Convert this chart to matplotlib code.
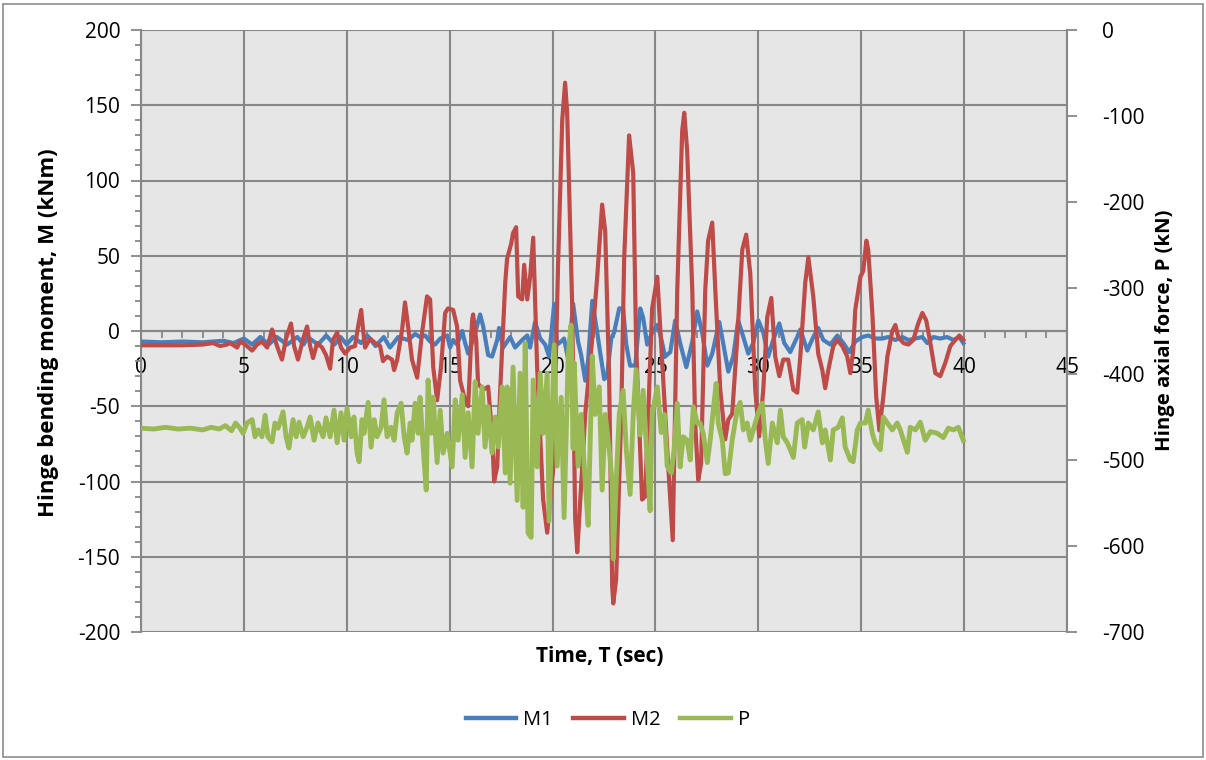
import matplotlib
matplotlib.use("Agg")
import matplotlib.pyplot as plt
from matplotlib.ticker import MultipleLocator, FixedLocator
from matplotlib.lines import Line2D
from matplotlib.patches import Rectangle

plt.rcParams['font.family'] = ['Open Sans', 'DejaVu Sans']

# ---------------- data ----------------
t_m1 = [0, 1, 2, 3, 4, 4.5,
        5.0, 5.4, 5.8, 6.2, 6.6, 7.1, 7.6, 7.9, 8.1, 8.6, 9.0, 9.4, 9.7, 10.0, 10.3, 10.7, 11.0, 11.4, 11.8, 12.1, 12.5,
        12.98, 13.32, 13.56, 13.81, 14.05, 14.29, 14.54, 14.88, 15.02, 15.17, 15.36, 15.61, 15.75, 15.90, 16.14, 16.48,
        16.63, 16.87, 17.06, 17.31, 17.40, 17.60, 17.94, 18.18, 18.52, 18.77, 18.91, 19.15, 19.40,
        19.64, 19.83, 20.08, 20.22, 20.42, 20.56, 20.76, 21.00, 21.24, 21.39, 21.59, 21.73, 21.93, 22.17, 22.31,
        22.51, 22.65, 22.85, 22.99, 23.24, 23.43, 23.58, 23.77, 24.02, 24.26, 24.40, 24.60, 24.84, 25.09,
        25.23, 25.47, 25.72, 25.96, 26.20, 26.50, 26.79, 27.03, 27.27, 27.52, 27.76, 28.10, 28.29, 28.54, 28.78,
        29.02, 29.27, 29.51, 29.75, 30.00, 30.24, 30.48, 30.72, 31.02, 31.26, 31.55, 31.89, 32.04, 32.38,
        32.67, 32.91, 33.16, 33.50, 33.84, 34.13, 34.42, 34.71, 35.05, 35.34, 35.68, 36.02, 36.32, 36.66, 37.00,
        37.29, 37.63, 37.97, 38.21, 38.50, 38.84, 39.18, 39.48, 39.77, 39.96]
m1 = [-7, -7.5, -7, -7.5, -6.5, -8,
      -5, -9, -4, -9, -4, -9, -4, -9, -4, -9, -3, -9, -4, -9, -4, -8, -3, -10, -4, -11, -4,
      -6, -2, -4, -3, -7, -9, -5, -3, -11, -6, -9, 0, -8, -15, -6, 11,
      3, -16, -17, -6, 2, -11, -4, -11, -6, -3, -11, 6, -5,
      -9, -17, 18, -9, -7, -5, -19, 18, -7, -16, -33, -19, 20, -1, -14,
      -32, -30, -5, -1, 15, 15, -9, -23, -23, 15, 9, -9, -1, 4,
      -2, -17, -14, 7, -8, -24, -7, 13, -1, -23, -15, 6, -8, -27, -17,
      7, -4, -15, -8, 7, -1, -17, -6, 5, -8, -14, -4, 1, -13,
      -4, 2, -6, -9, -3, -8, -14, -7, -4, -3, -5, -5, -4, -6, -4,
      -6, -5, -4, -8, -4, -5, -4, -6, -4, -8]

t_m2 = [0, 1, 2, 3.0, 3.5, 3.84, 4.18, 4.33, 4.67, 4.81,
        5.06, 5.40, 5.64, 5.88, 6.13, 6.37, 6.61, 6.85, 7.05, 7.29,
        7.44, 7.63, 7.88, 8.07, 8.22, 8.36, 8.56, 8.80, 8.99, 9.19,
        9.33, 9.53, 9.72, 9.92, 10.16, 10.40, 10.55, 10.70, 10.79, 10.89,
        11.13, 11.38, 11.62, 11.76, 11.96, 12.20, 12.30, 12.45, 12.69, 12.83,
        12.98, 13.17, 13.42, 13.66, 13.90, 14.05, 14.20, 14.39, 14.58, 14.78,
        14.92, 15.17, 15.36, 15.51, 15.75, 15.90, 16.09, 16.14, 16.29, 16.38,
        16.63, 16.87, 17.06, 17.16, 17.31, 17.45, 17.70, 17.79, 17.99, 18.08,
        18.23, 18.33, 18.52, 18.62, 18.77, 18.91, 19.06, 19.25, 19.54, 19.74,
        20.03, 20.27, 20.47, 20.61, 20.71, 20.95, 21.10, 21.20, 21.59, 21.93,
        22.17, 22.41, 22.56, 22.75, 22.90, 22.95, 23.09, 23.34, 23.48, 23.72,
        23.92, 24.06, 24.35, 24.50, 24.84, 25.09, 25.57, 25.84, 26.06, 26.30,
        26.40, 26.54, 26.79, 26.93, 27.08, 27.22, 27.42, 27.56, 27.76, 27.91,
        28.15, 28.39, 28.54, 28.73, 28.97, 29.22, 29.41, 29.61, 29.85, 30.04,
        30.24, 30.43, 30.63, 30.82, 31.02, 31.21, 31.45, 31.70, 31.89, 32.04,
        32.28, 32.43, 32.67, 32.91, 33.11, 33.25, 33.40, 33.64, 33.84, 34.08,
        34.32, 34.47, 34.61, 34.71, 34.96, 35.10, 35.25, 35.34, 35.54, 35.73,
        35.88, 36.07, 36.27, 36.51, 36.66, 36.80, 37.05, 37.29, 37.53, 37.77,
        37.97, 38.16, 38.36, 38.60, 38.84, 39.09, 39.33, 39.57, 39.77, 39.96]
m2 = [-9.5, -9.5, -9.5, -9, -8, -10, -9, -8, -11, -7,
      -9, -13, -9, -7, -11, 1, -10, -19, -5, 5,
      -10, -19, -5, 3, -10, -18, -8, -11, -16, -25,
      -6, -1, -11, -15, -11, -10, 3, 14, 1, -11,
      -5, -8, -10, -20, -17, -19, -26, -19, 1, 19,
      3, -19, -31, -1, 23, 21, -24, -46, -24, 12,
      15, 14, 3, -33, -46, -50, 7, 11, -6, -35,
      -39, -37, -68, -100, -90, -41, 32, 48, 58, 65,
      69, 23, 21, 44, 21, 36, 62, -24, -112, -134,
      -92, 45, 140, 165, 145, 19, -125, -147, -55, -5,
      36, 84, 66, -32, -170, -181, -165, -55, 48, 130,
      105, -9, -112, -110, 15, 36, -78, -139, 27, 133,
      145, 120, 27, -61, -99, -88, 27, 60, 72, 27,
      -39, -72, -59, -55, -6, 54, 64, 38, -39, -70,
      -39, 9, 22, -17, -30, -19, -19, -39, -41, -17,
      32, 49, 23, -15, -26, -38, -26, -10, -6, -10,
      -17, -28, -13, 14, 36, 40, 60, 54, 12, -44,
      -66, -44, -17, 0, 4, -4, -8, -9, -6, 5,
      12, 7, -8, -28, -30, -21, -10, -6, -3, -6]

t_p = [0, 0.6, 1.2, 1.8, 2.4, 3.0, 3.4, 3.8, 4.1, 4.4,
       4.6, 4.81, 4.96, 5.15, 5.40, 5.54, 5.69, 5.88, 6.03, 6.17,
       6.37, 6.51, 6.66, 6.90, 7.05, 7.19, 7.39, 7.54, 7.68, 7.88,
       8.07, 8.22, 8.41, 8.60, 8.85, 8.99, 9.19, 9.38, 9.53, 9.72,
       9.87, 10.01, 10.21, 10.35, 10.50, 10.60, 10.74, 10.84, 11.04, 11.18,
       11.33, 11.47, 11.67, 11.81, 11.96, 12.15, 12.30, 12.45, 12.64, 12.79,
       12.93, 13.08, 13.17, 13.32, 13.47, 13.56, 13.71, 13.86, 13.95, 14.10,
       14.20, 14.39, 14.54, 14.68, 14.88, 15.12, 15.27, 15.41, 15.61, 15.75,
       15.90, 16.09, 16.24, 16.38, 16.58, 16.72, 16.87, 17.06, 17.21, 17.36,
       17.55, 17.70, 17.79, 17.94, 18.08, 18.28, 18.42, 18.57, 18.67, 18.81,
       18.96, 19.06, 19.25, 19.40, 19.54, 19.74, 19.83, 19.98, 20.08, 20.22,
       20.42, 20.56, 20.76, 20.90, 21.00, 21.05, 21.24, 21.39, 21.59, 21.73,
       21.93, 22.07, 22.27, 22.41, 22.56, 22.75, 22.90, 22.95, 23.09, 23.24,
       23.43, 23.58, 23.77, 23.92, 24.06, 24.26, 24.40, 24.60, 24.74, 24.84,
       25.09, 25.28, 25.43, 25.57, 25.77, 25.91, 26.06, 26.20, 26.35, 26.54,
       26.69, 26.84, 27.03, 27.17, 27.32, 27.52, 27.66, 27.81, 27.95, 28.05,
       28.25, 28.39, 28.54, 28.73, 28.97, 29.12, 29.27, 29.46, 29.61, 29.85,
       30.00, 30.19, 30.34, 30.48, 30.68, 30.92, 31.07, 31.21, 31.41, 31.55,
       31.70, 31.89, 32.13, 32.25, 32.43, 32.67, 32.91, 33.11, 33.25, 33.50,
       33.64, 33.88, 34.08, 34.22, 34.47, 34.61, 34.81, 34.96, 35.20, 35.34,
       35.54, 35.68, 35.93, 36.07, 36.27, 36.51, 36.75, 36.90, 37.24, 37.38,
       37.63, 37.87, 38.11, 38.36, 38.70, 38.99, 39.23, 39.48, 39.72, 39.96]
p = [-463, -464, -462, -464, -463, -465, -462, -464, -460, -466,
     -457, -463, -469, -457, -453, -473, -465, -473, -448, -473,
     -479, -457, -463, -444, -473, -486, -453, -473, -456, -473,
     -462, -450, -477, -457, -473, -451, -473, -442, -480, -445,
     -477, -440, -473, -450, -492, -502, -453, -469, -433, -485,
     -453, -473, -462, -430, -473, -462, -477, -445, -434, -473,
     -492, -457, -477, -434, -469, -427, -485, -535, -407, -469,
     -427, -503, -442, -492, -469, -508, -430, -477, -424, -497,
     -445, -508, -409, -469, -415, -485, -438, -492, -450, -485,
     -415, -515, -415, -527, -392, -547, -399, -555, -364, -585,
     -590, -407, -508, -399, -469, -399, -571, -447, -366, -507,
     -427, -567, -378, -343, -487, -387, -507, -447, -527, -576,
     -379, -447, -415, -535, -447, -487, -527, -615, -527, -447,
     -419, -487, -540, -447, -395, -471, -419, -499, -559, -447,
     -415, -468, -447, -507, -515, -487, -434, -508, -473, -477,
     -500, -438, -457, -457, -469, -503, -477, -442, -411, -457,
     -477, -516, -515, -477, -442, -433, -465, -457, -477, -457,
     -445, -434, -477, -504, -457, -480, -442, -473, -480, -488,
     -497, -457, -453, -485, -457, -465, -444, -480, -465, -500,
     -465, -462, -451, -485, -500, -502, -465, -457, -457, -442,
     -469, -480, -488, -450, -457, -465, -457, -465, -491, -462,
     -465, -456, -477, -467, -469, -474, -463, -465, -462, -477]

x_ticks = [0, 5, 10, 15, 20, 25, 30, 35, 40, 45]
y_left_ticks = [-200, -150, -100, -50, 0, 50, 100, 150, 200]
y_right_ticks = [-700, -600, -500, -400, -300, -200, -100, 0]
series_names = ['M1', 'M2', 'P']
series_colors = ['#4A7EBB', '#BE4B48', '#98B954']

# ---------------- figure ----------------
W, H = 1206, 760
fig = plt.figure(figsize=(W / 100, H / 100), dpi=100)
fig.patch.set_facecolor('white')
fig.patches.append(Rectangle((3 / W, 3 / H), (W - 6) / W, (H - 7) / H, transform=fig.transFigure,
                             fill=False, ec='#8C8C8C', lw=1.2))

L, R, T, B = 141, 1067, 30, 632
ax = fig.add_axes([L / W, 1 - B / H, (R - L) / W, (B - T) / H])
ax.set_facecolor('#E6E6E6')
gcol = '#878787'

ax.set_xlim(0, 45)
ax.set_ylim(-200, 200)
ax.xaxis.set_major_locator(FixedLocator(x_ticks))
ax.xaxis.set_minor_locator(MultipleLocator(1))
ax.yaxis.set_major_locator(FixedLocator(y_left_ticks))
ax.yaxis.set_minor_locator(MultipleLocator(10))
ax.set_xticklabels([str(v) for v in x_ticks])
ax.set_yticklabels([str(v) for v in y_left_ticks])
ax.grid(True, which='major', color=gcol, lw=1.5)
ax.set_axisbelow(True)

for s in ['top', 'right']:
    ax.spines[s].set_visible(False)
ax.spines['left'].set_color(gcol)
ax.spines['left'].set_linewidth(1.5)
ax.spines['bottom'].set_position(('data', 0))
ax.spines['bottom'].set_color(gcol)
ax.spines['bottom'].set_linewidth(1.5)

ax.tick_params(axis='y', which='major', direction='out', length=7, width=1.3, color=gcol,
               pad=8, labelsize=15, labelcolor='black')
ax.tick_params(axis='y', which='minor', direction='out', length=4, width=1.3, color=gcol)
ax.tick_params(axis='x', which='both', direction='out', length=5, width=1.3, color=gcol,
               pad=14, labelsize=15, labelcolor='black')

ax.plot(t_m1, m1, color=series_colors[0], lw=3.0, solid_joinstyle='round', zorder=3)
ax.plot(t_m2, m2, color=series_colors[1], lw=3.0, solid_joinstyle='round', zorder=4)

ax2 = ax.twinx()
ax2.set_ylim(-700, 0)
ax2.yaxis.set_major_locator(FixedLocator(y_right_ticks))
ax2.set_yticklabels([str(v) for v in y_right_ticks])
for s in ['top', 'left', 'bottom']:
    ax2.spines[s].set_visible(False)
ax2.spines['right'].set_color(gcol)
ax2.spines['right'].set_linewidth(1.5)
ax2.tick_params(axis='y', which='major', direction='out', length=7, width=1.3, color=gcol,
                pad=18, labelsize=15, labelcolor='black')
ax2.plot(t_p, p, color=series_colors[2], lw=3.5, solid_joinstyle='round')

# axis titles
fig.text(49 / W, 1 - 333 / H, 'Hinge bending moment, M (kNm)', rotation=90, ha='center', va='center',
         fontsize=16, fontweight='bold')
fig.text(1165 / W, 1 - 330 / H, 'Hinge axial force, P (kN)', rotation=90, ha='center', va='center',
         fontsize=14.6, fontweight='bold')
fig.text(600 / W, 1 - 656 / H, 'Time, T (sec)', ha='center', va='center',
         fontsize=15, fontweight='bold')

handles = [Line2D([], [], color=c, lw=3.2) for c in series_colors]
fig.legend(handles, series_names, loc='center', bbox_to_anchor=(608 / W, 1 - 720 / H), ncol=3,
           frameon=False, fontsize=14.5, handlelength=2.5, handletextpad=0.35, columnspacing=1.0)

fig.savefig('out.png', dpi=100)
